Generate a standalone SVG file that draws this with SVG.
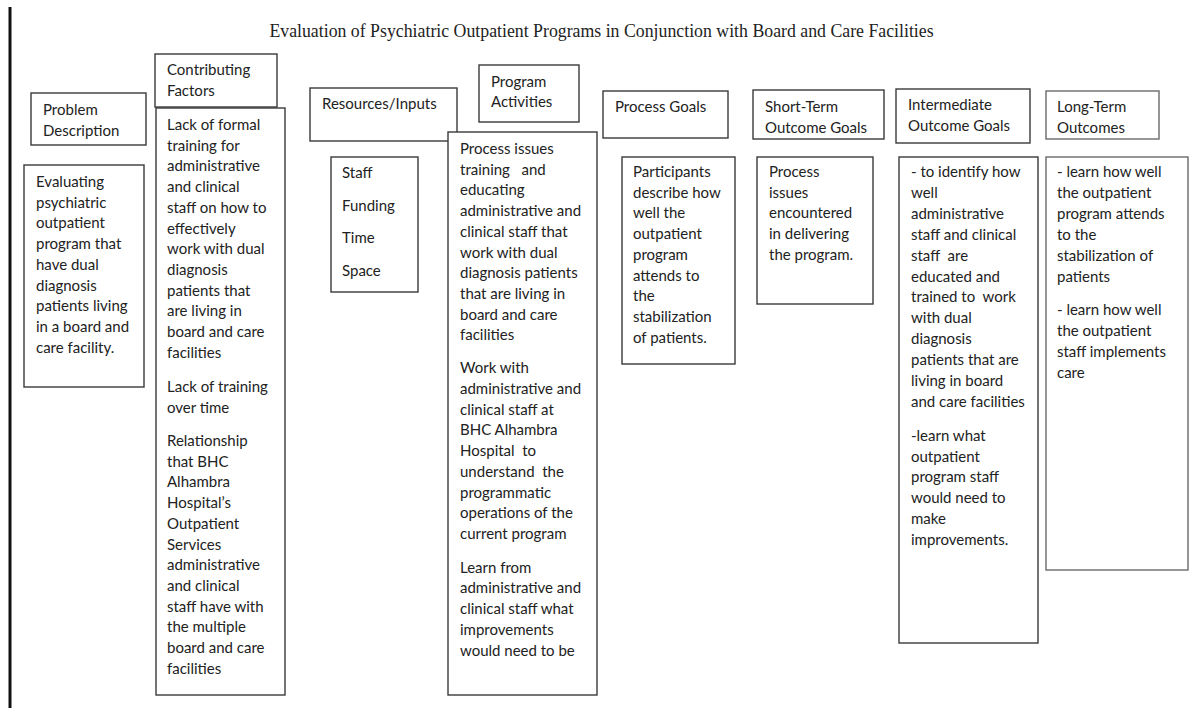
<svg xmlns="http://www.w3.org/2000/svg" width="1192" height="708" viewBox="0 0 1192 708">
<style>
.bx{fill:#fff;stroke:#3a3a3a;stroke-width:1.4}
.lt{stroke:#6a6a6a}
.t{font-family:Lato,"Open Sans","Liberation Sans",sans-serif;font-size:15px;fill:#222;white-space:pre}
.ttl{font-family:"Liberation Serif","Times New Roman",serif;font-size:17.8px;fill:#222}
</style>
<rect width="1192" height="708" fill="#fff"/>
<rect x="8.5" y="7" width="3" height="701" fill="#111"/>
<text class="ttl" x="601.5" y="37" text-anchor="middle">Evaluation of Psychiatric Outpatient Programs in Conjunction with Board and Care Facilities</text>

<g id="problem-header"><rect class="bx" x="31" y="93" width="115" height="52"/>
<text class="t"><tspan x="43" y="115">Problem</tspan><tspan x="43" y="136">Description</tspan></text></g>
<g id="problem-body"><rect class="bx" x="24" y="165" width="120" height="222"/>
<text class="t"><tspan x="36" y="187">Evaluating</tspan><tspan x="36" y="207.7">psychiatric</tspan><tspan x="36" y="228.4">outpatient</tspan><tspan x="36" y="249.1">program that</tspan><tspan x="36" y="269.8">have dual</tspan><tspan x="36" y="290.5">diagnosis</tspan><tspan x="36" y="311.2">patients living</tspan><tspan x="36" y="331.9">in a board and</tspan><tspan x="36" y="352.6">care facility.</tspan></text></g>

<g id="factors-header"><rect class="bx" x="155" y="54" width="122" height="53"/>
<text class="t"><tspan x="167" y="75">Contributing</tspan><tspan x="167" y="96">Factors</tspan></text></g>
<g id="factors-body"><rect class="bx" x="156" y="108" width="129" height="587"/>
<text class="t"><tspan x="167" y="130">Lack of formal</tspan><tspan x="167" y="150.7">training for</tspan><tspan x="167" y="171.4">administrative</tspan><tspan x="167" y="192.1">and clinical</tspan><tspan x="167" y="212.8">staff on how to</tspan><tspan x="167" y="233.5">effectively</tspan><tspan x="167" y="254.2">work with dual</tspan><tspan x="167" y="274.9">diagnosis</tspan><tspan x="167" y="295.6">patients that</tspan><tspan x="167" y="316.3">are living in</tspan><tspan x="167" y="337">board and care</tspan><tspan x="167" y="357.7">facilities</tspan><tspan x="167" y="392">Lack of training</tspan><tspan x="167" y="412.7">over time</tspan><tspan x="167" y="446">Relationship</tspan><tspan x="167" y="466.7">that BHC</tspan><tspan x="167" y="487.4">Alhambra</tspan><tspan x="167" y="508.1">Hospital’s</tspan><tspan x="167" y="528.8">Outpatient</tspan><tspan x="167" y="549.5">Services</tspan><tspan x="167" y="570.2">administrative</tspan><tspan x="167" y="590.9">and clinical</tspan><tspan x="167" y="611.6">staff have with</tspan><tspan x="167" y="632.3">the multiple</tspan><tspan x="167" y="653">board and care</tspan><tspan x="167" y="673.7">facilities</tspan></text></g>

<g id="resources-header"><rect class="bx" x="310" y="88" width="147" height="53"/>
<text class="t"><tspan x="322" y="109">Resources/Inputs</tspan></text></g>
<g id="resources-body"><rect class="bx" x="331" y="157" width="87" height="135"/>
<text class="t"><tspan x="342" y="178">Staff</tspan><tspan x="342" y="210.5">Funding</tspan><tspan x="342" y="243">Time</tspan><tspan x="342" y="275.5">Space</tspan></text></g>

<g id="activities-header"><rect class="bx" x="479" y="65" width="100" height="57"/>
<text class="t"><tspan x="491" y="87">Program</tspan><tspan x="491" y="107">Activities</tspan></text></g>
<g id="activities-body"><rect class="bx" x="448" y="132" width="149" height="563"/>
<text class="t"><tspan x="460" y="154">Process issues</tspan><tspan x="460" y="174.7">training   and</tspan><tspan x="460" y="195.4">educating</tspan><tspan x="460" y="216.1">administrative and</tspan><tspan x="460" y="236.8">clinical staff that</tspan><tspan x="460" y="257.5">work with dual</tspan><tspan x="460" y="278.2">diagnosis patients</tspan><tspan x="460" y="298.9">that are living in</tspan><tspan x="460" y="319.6">board and care</tspan><tspan x="460" y="340.3">facilities</tspan><tspan x="460" y="373.3">Work with</tspan><tspan x="460" y="394">administrative and</tspan><tspan x="460" y="414.7">clinical staff at</tspan><tspan x="460" y="435.4">BHC Alhambra</tspan><tspan x="460" y="456.1">Hospital  to</tspan><tspan x="460" y="476.8">understand  the</tspan><tspan x="460" y="497.5">programmatic</tspan><tspan x="460" y="518.2">operations of the</tspan><tspan x="460" y="538.9">current program</tspan><tspan x="460" y="572.7">Learn from</tspan><tspan x="460" y="593.4">administrative and</tspan><tspan x="460" y="614.1">clinical staff what</tspan><tspan x="460" y="634.8">improvements</tspan><tspan x="460" y="655.5">would need to be</tspan></text></g>

<g id="process-header"><rect class="bx" x="603" y="91" width="125" height="47"/>
<text class="t"><tspan x="615" y="112">Process Goals</tspan></text></g>
<g id="process-body"><rect class="bx" x="622" y="157" width="113" height="207"/>
<text class="t"><tspan x="633" y="177">Participants</tspan><tspan x="633" y="197.7">describe how</tspan><tspan x="633" y="218.4">well the</tspan><tspan x="633" y="239.1">outpatient</tspan><tspan x="633" y="259.8">program</tspan><tspan x="633" y="280.5">attends to</tspan><tspan x="633" y="301.2">the</tspan><tspan x="633" y="321.9">stabilization</tspan><tspan x="633" y="342.6">of patients.</tspan></text></g>

<g id="short-header"><rect class="bx" x="753" y="90" width="131" height="49"/>
<text class="t"><tspan x="765" y="112">Short-Term</tspan><tspan x="765" y="133">Outcome Goals</tspan></text></g>
<g id="short-body"><rect class="bx" x="757" y="157" width="116" height="147"/>
<text class="t"><tspan x="769" y="177">Process</tspan><tspan x="769" y="197.7">issues</tspan><tspan x="769" y="218.4">encountered</tspan><tspan x="769" y="239.1">in delivering</tspan><tspan x="769" y="259.8">the program.</tspan></text></g>

<g id="intermediate-header"><rect class="bx" x="896" y="89" width="134" height="54"/>
<text class="t"><tspan x="908" y="110">Intermediate</tspan><tspan x="908" y="131">Outcome Goals</tspan></text></g>
<g id="intermediate-body"><rect class="bx" x="899" y="157" width="139" height="486"/>
<text class="t"><tspan x="911" y="177.3">- to identify how</tspan><tspan x="911" y="198.2">well</tspan><tspan x="911" y="219">administrative</tspan><tspan x="911" y="239.9">staff and clinical</tspan><tspan x="911" y="260.7">staff  are</tspan><tspan x="911" y="281.6">educated and</tspan><tspan x="911" y="302.4">trained to  work</tspan><tspan x="911" y="323.3">with dual</tspan><tspan x="911" y="344.1">diagnosis</tspan><tspan x="911" y="365">patients that are</tspan><tspan x="911" y="385.8">living in board</tspan><tspan x="911" y="406.7">and care facilities</tspan><tspan x="911" y="440.7">-learn what</tspan><tspan x="911" y="461.6">outpatient</tspan><tspan x="911" y="482.4">program staff</tspan><tspan x="911" y="503.3">would need to</tspan><tspan x="911" y="524.1">make</tspan><tspan x="911" y="545">improvements.</tspan></text></g>

<g id="longterm-header"><rect class="bx lt" x="1046" y="91" width="113" height="48"/>
<text class="t"><tspan x="1057" y="112">Long-Term</tspan><tspan x="1057" y="133">Outcomes</tspan></text></g>
<g id="longterm-body"><rect class="bx lt" x="1046" y="157" width="142" height="413"/>
<text class="t"><tspan x="1057" y="177.3">- learn how well</tspan><tspan x="1057" y="198.2">the outpatient</tspan><tspan x="1057" y="219">program attends</tspan><tspan x="1057" y="239.9">to the</tspan><tspan x="1057" y="260.7">stabilization of</tspan><tspan x="1057" y="281.6">patients</tspan><tspan x="1057" y="315">- learn how well</tspan><tspan x="1057" y="335.9">the outpatient</tspan><tspan x="1057" y="356.7">staff implements</tspan><tspan x="1057" y="377.6">care</tspan></text></g>

<g id="connectors"/>
</svg>
